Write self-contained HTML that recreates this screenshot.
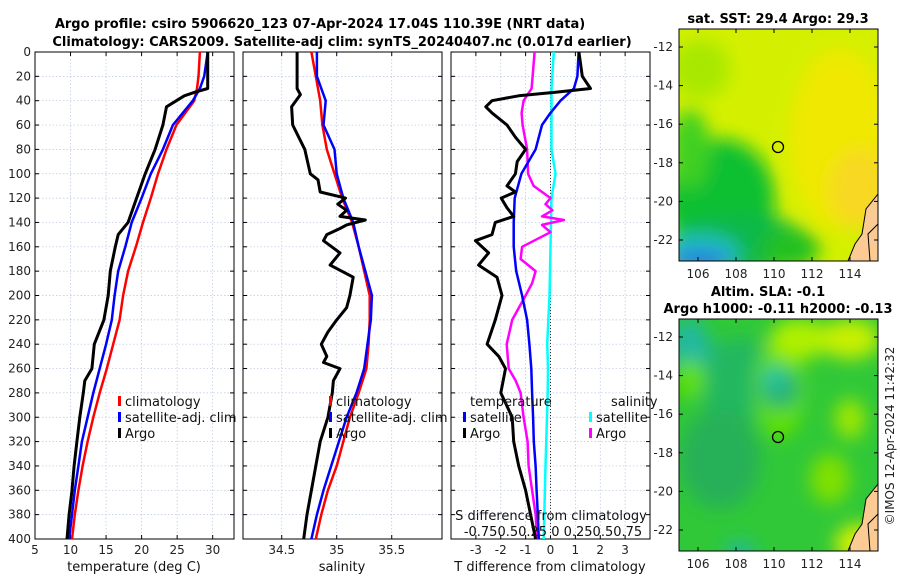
<!DOCTYPE html>
<html><head><meta charset="utf-8"><style>
body{margin:0;background:#fff;}
svg{display:block;font-family:"DejaVu Sans","Liberation Sans",sans-serif;}
</style></head><body>
<svg id="c" width="900" height="580" viewBox="0 0 900 580">
<defs>
<filter id="bl" x="-50%" y="-50%" width="200%" height="200%"><feGaussianBlur stdDeviation="9"/></filter>
<clipPath id="m1c"><rect x="679" y="29" width="199" height="232"/></clipPath>
<clipPath id="m2c"><rect x="679" y="319" width="199" height="232"/></clipPath>
</defs>
<text x="320" y="28" text-anchor="middle" font-size="13" font-weight="bold">Argo profile: csiro 5906620_123 07-Apr-2024 17.04S 110.39E (NRT data)</text>
<text x="342" y="46" text-anchor="middle" font-size="13" font-weight="bold">Climatology: CARS2009. Satellite-adj clim: synTS_20240407.nc (0.017d earlier)</text>
<text x="778" y="23" text-anchor="middle" font-size="13" font-weight="bold">sat. SST: 29.4 Argo: 29.3</text>
<text x="768" y="296" text-anchor="middle" font-size="13" font-weight="bold">Altim. SLA: -0.1</text>
<text x="778" y="313" text-anchor="middle" font-size="13" font-weight="bold">Argo h1000: -0.11 h2000: -0.13</text>
<text transform="translate(894,436) rotate(-90)" text-anchor="middle" font-size="12" fill="#222">©IMOS 12-Apr-2024 11:42:32</text>
<g id="g"></g>
</svg>
<script>
// ---- data ----
const tDepth=[0,20,30,40,60,80,100,120,140,160,180,200,220,240,260,280,300,320,340,360,380,400];
const tClim=[28.2,28.0,27.8,27.4,24.9,23.5,22.3,21.3,20.2,19.2,18.1,17.4,16.9,16,15.1,14.1,13.2,12.4,11.7,11.1,10.6,10.2];
const tSat=[29.3,28.8,28.2,27.2,24.4,23,21.3,20,18.6,17.7,16.7,16.2,15.8,15,14.1,13.2,12.4,11.6,11.1,10.6,10.2,9.8];
const tArgoDepth=[0,30,33,36,40,45,60,80,100,120,140,150,160,180,200,220,240,260,270,280,300,320,340,360,380,400];
const tArgo=[29.3,29.3,27.5,26,24.9,23.5,23,21.9,20.5,19.3,18.1,16.7,16.3,15.6,15.3,14.7,13.35,13,12,11.8,11.3,10.9,10.5,10.2,9.8,9.5];
const sDepth=[0,20,40,60,80,100,120,140,160,180,200,220,240,260,280,300,320,340,360,380,400];
const sClim=[34.77,34.81,34.85,34.87,34.91,34.98,35.05,35.14,35.2,35.25,35.3,35.3,35.29,35.27,35.2,35.12,35.06,35.0,34.92,34.86,34.81];
const sSat=[34.82,34.82,34.9,34.88,34.98,35.0,35.06,35.15,35.2,35.26,35.32,35.31,35.28,35.25,35.18,35.09,35.02,34.95,34.88,34.82,34.77];
const sArgoDepth=[0,30,35,45,60,80,100,105,115,120,125,130,135,138,142,145,150,155,165,175,185,200,210,220,230,240,250,255,260,270,280,300,320,340,360,380,400];
const sArgo=[34.64,34.64,34.67,34.59,34.6,34.71,34.76,34.83,34.85,35.08,35.01,35.09,35.03,35.26,35.09,35.03,34.91,34.88,35.03,34.94,35.15,35.12,35.09,35.0,34.92,34.86,34.91,34.88,35.03,34.97,34.96,34.92,34.85,34.81,34.77,34.73,34.7];
const dTDepth=[0,20,30,33,36,40,45,50,60,70,80,90,100,110,115,120,128,135,140,150,155,165,175,185,200,220,240,250,260,280,300,320,340,360,380,400];
const dTArgo=[1.14,1.28,1.61,0.2,-1.28,-2.35,-2.6,-2.35,-1.75,-1.41,-1.0,-1.34,-1.41,-1.75,-1.41,-1.98,-1.75,-1.48,-2.22,-2.35,-3.02,-2.49,-2.89,-2.15,-1.95,-2.22,-2.55,-2.08,-1.81,-2.0,-1.54,-1.48,-1.28,-1.0,-0.8,-0.6];
const dTSatDepth=[0,20,30,40,50,60,80,100,120,140,160,180,200,220,240,260,280,300,320,340,360,380,400];
const dTSat=[1.13,1.08,0.94,0.4,0,-0.34,-0.6,-1.17,-1.44,-1.48,-1.48,-1.38,-1.14,-0.94,-0.85,-0.77,-0.74,-0.7,-0.67,-0.6,-0.56,-0.51,-0.47];
const dSDepth=[0,30,40,50,60,80,100,110,120,125,130,135,138,142,148,160,170,180,190,200,220,240,260,270,280,300,320,340,360,380,400];
const dSArgo=[-0.16,-0.19,-0.27,-0.29,-0.28,-0.235,-0.225,-0.17,0,-0.05,0.02,-0.085,0.135,-0.085,0,-0.285,-0.3,-0.15,-0.185,-0.25,-0.385,-0.44,-0.42,-0.35,-0.3,-0.27,-0.23,-0.22,-0.185,-0.15,-0.135];
const dSSatDepth=[0,30,80,100,120,200,240,260,280,340,400];
const dSSat=[0.033,0.01,0.01,0.05,0.01,-0.01,-0.033,-0.025,-0.028,-0.05,-0.068];
const depthTicks=[0,20,40,60,80,100,120,140,160,180,200,220,240,260,280,300,320,340,360,380,400];
const tTicks=[5,10,15,20,25,30];
const sTicks=[34.5,35,35.5];
const dTTicks=[-3,-2,-1,0,1,2,3];
const lonTicks=[106,108,110,112,114];
const latTicks=[-12,-14,-16,-18,-20,-22];

const NS='http://www.w3.org/2000/svg';
const G=document.getElementById('g');
function el(t,a,p){const e=document.createElementNS(NS,t);for(const k in a)e.setAttribute(k,a[k]);(p||G).appendChild(e);return e;}
const Y0=52,Y1=539;
const yD=d=>Y0+d/400*(Y1-Y0);
const panels=[{x:35,min:5,max:33,ticks:tTicks,name:'temperature'},{x:243,min:34.148,max:35.957,ticks:sTicks,name:'salinity'},{x:451,min:-4,max:4,ticks:dTTicks,name:'difference'}];
const W=199;
function xf(p){return v=>p.x+(v-p.min)/(p.max-p.min)*W;}
panels.forEach((p,i)=>{
  const x=xf(p);
  const gr=el('g',{});
  
  
  depthTicks.forEach(d=>el('line',{x1:p.x,x2:p.x+W,y1:yD(d),y2:yD(d),stroke:'#b8c4e0','stroke-width':0.7,'stroke-dasharray':'1.5,2'},gr));
  p.ticks.forEach(t=>{el('line',{x1:x(t),x2:x(t),y1:Y0,y2:Y1,stroke:'#b8c4e0','stroke-width':0.7,'stroke-dasharray':'1.5,2'},gr);
    el('line',{x1:x(t),x2:x(t),y1:Y1,y2:Y1-4,stroke:'#000'},gr);el('line',{x1:x(t),x2:x(t),y1:Y0,y2:Y0+4,stroke:'#000'},gr);
    const tx=el('text',{x:x(t),y:Y1+15,'text-anchor':'middle','font-size':12,fill:'#222'},gr);tx.textContent=t;});
  depthTicks.forEach(d=>{el('line',{x1:p.x,x2:p.x+4,y1:yD(d),y2:yD(d),stroke:'#000'},gr);el('line',{x1:p.x+W,x2:p.x+W-4,y1:yD(d),y2:yD(d),stroke:'#000'},gr);
    if(i==0){const tx=el('text',{x:p.x-4,y:yD(d)+4,'text-anchor':'end','font-size':12,fill:'#222'},gr);tx.textContent=d;}});
  const fr=el('rect',{x:p.x,y:Y0,width:W,height:Y1-Y0,fill:'none',stroke:'#000','stroke-width':1});
  
  
});
function line(p,xs,ds,col,w,name,scale){
  const x=xf(p);const f=scale?(v=>x(v*scale)):x;
  const pts=xs.map((v,i)=>f(v).toFixed(1)+','+yD(ds[i]).toFixed(1)).join(' ');
  const e=el('polyline',{points:pts,fill:'none',stroke:col,'stroke-width':w,'stroke-linejoin':'round'});
  
  
}
line(panels[0],tClim,tDepth,'#f00',2.5,'temp-climatology-line');
line(panels[0],tSat,tDepth,'#00f',2.5,'temp-satellite-line');
line(panels[0],tArgo,tArgoDepth,'#000',3,'temp-argo-line');
line(panels[1],sClim,sDepth,'#f00',2.5,'sal-climatology-line');
line(panels[1],sSat,sDepth,'#00f',2.5,'sal-satellite-line');
line(panels[1],sArgo,sArgoDepth,'#000',3,'sal-argo-line');
el('line',{x1:xf(panels[2])(0),x2:xf(panels[2])(0),y1:Y0,y2:Y1,stroke:'#333','stroke-width':1,'stroke-dasharray':'1,2'});
line(panels[2],dSSat,dSSatDepth,'#0ff',2.5,'sal-diff-satellite-line',4);
line(panels[2],dSArgo,dSDepth,'#f0f',2.5,'sal-diff-argo-line',4);
line(panels[2],dTSat,dTSatDepth,'#00f',2.5,'temp-diff-satellite-line');
line(panels[2],dTArgo,dTDepth,'#000',3,'temp-diff-argo-line');
function txt(x,y,s,name,size,anchor){const t=el('text',{x:x,y:y,'font-size':size||13,'text-anchor':anchor||'start',fill:'#111'});t.textContent=s;return t;}
function leg(x,y,col,s,name){el('rect',{x:x,y:y-10,width:3,height:10,fill:col});txt(x+7,y,s,name);}
leg(118,406,'#f00','climatology','legend-climatology');leg(118,422,'#00f','satellite-adj. clim','legend-satellite');leg(118,438,'#000','Argo','legend-argo');
leg(329,406,'#f00','climatology','legend2-climatology');leg(329,422,'#00f','satellite-adj. clim','legend2-satellite');leg(329,438,'#000','Argo','legend2-argo');
txt(470,406,'temperature','legend-temperature-header');txt(611,406,'salinity','legend-salinity-header');
leg(463,422,'#00f','satellite','legend-t-satellite');leg(463,438,'#000','Argo','legend-t-argo');
leg(589,422,'#0ff','satellite','legend-s-satellite');leg(589,438,'#f0f','Argo','legend-s-argo');
txt(551,520,'S difference from climatology','s-diff-axis-title',13,'middle');
txt(553,536,'-0.750.50.25 0 0.250.50.75','s-diff-tick-labels',13,'middle');
txt(134,571,'temperature (deg C)','x-axis-title-temperature',13,'middle');
txt(342,571,'salinity','x-axis-title-salinity',13,'middle');
txt(550,571,'T difference from climatology','x-axis-title-tdiff',13,'middle');
// maps
function map(y0,name,bg,blobs,lat12,lat22){
  const g=el('g',{'clip-path':'url(#'+name+'c)'});
  
  
  el('rect',{x:679,y:y0,width:199,height:232,fill:bg},g);
  const fg=el('g',{filter:'url(#bl)'},g);
  blobs.forEach(b=>el('ellipse',{cx:b[0],cy:y0+b[1],rx:b[2],ry:b[3],fill:b[4]},fg));
  el('path',{d:`M848 ${y0+232} L855 ${y0+215} L862 ${y0+205} L866 ${y0+180} L878 ${y0+165} L878 ${y0+232}Z`,fill:'#fccb94',stroke:'#000','stroke-width':1},g);
  el('path',{d:`M870 ${y0+232} L868 ${y0+205} L878 ${y0+195}`,fill:'none',stroke:'#000','stroke-width':1},g);
  el('circle',{cx:778,cy:y0+118,r:5.5,fill:'none',stroke:'#000','stroke-width':1.3});
  el('rect',{x:679,y:y0,width:199,height:232,fill:'none',stroke:'#000','stroke-width':1});
  const lx=v=>698+(v-106)*19;
  lonTicks.forEach(v=>{el('line',{x1:lx(v),x2:lx(v),y1:y0+232,y2:y0+228,stroke:'#000'});el('line',{x1:lx(v),x2:lx(v),y1:y0,y2:y0+4,stroke:'#000'});
    const t=el('text',{x:lx(v),y:y0+249,'text-anchor':'middle','font-size':12,fill:'#222'});t.textContent=v;});
  const ly=v=>lat12+(v+12)/(-10)*(lat22-lat12);
  latTicks.forEach(v=>{el('line',{x1:679,x2:683,y1:ly(v),y2:ly(v),stroke:'#000'});el('line',{x1:878,x2:874,y1:ly(v),y2:ly(v),stroke:'#000'});
    const t=el('text',{x:673,y:ly(v)+4,'text-anchor':'end','font-size':12,fill:'#222'});t.textContent=v;});
}
map(29,'m1','#d4f000',[[700,40,30,30,'#a8e800'],[840,110,50,90,'#f0e800'],[860,160,30,40,'#f8d820'],[720,170,55,60,'#10c030'],[740,215,70,30,'#10b848'],[700,225,40,20,'#20c0c0'],[700,232,30,12,'#2080e0'],[790,220,30,20,'#20c020'],[690,120,20,40,'#40d020']],47,240);
map(319,'m2','#30c838',[[740,60,45,40,'#20b860'],[780,70,25,50,'#60e000'],[800,20,30,20,'#b0f000'],[850,20,30,20,'#c8f000'],[780,70,20,20,'#28b070'],[775,60,12,14,'#20c0a0'],[690,30,20,30,'#20b8a0'],[690,60,15,20,'#60e000'],[850,100,15,20,'#a0e800'],[830,160,20,25,'#80e000'],[860,225,25,20,'#d8f000'],[740,232,15,10,'#20b8a0'],[720,140,40,50,'#28b058']],337,530);
</script>
</body></html>
